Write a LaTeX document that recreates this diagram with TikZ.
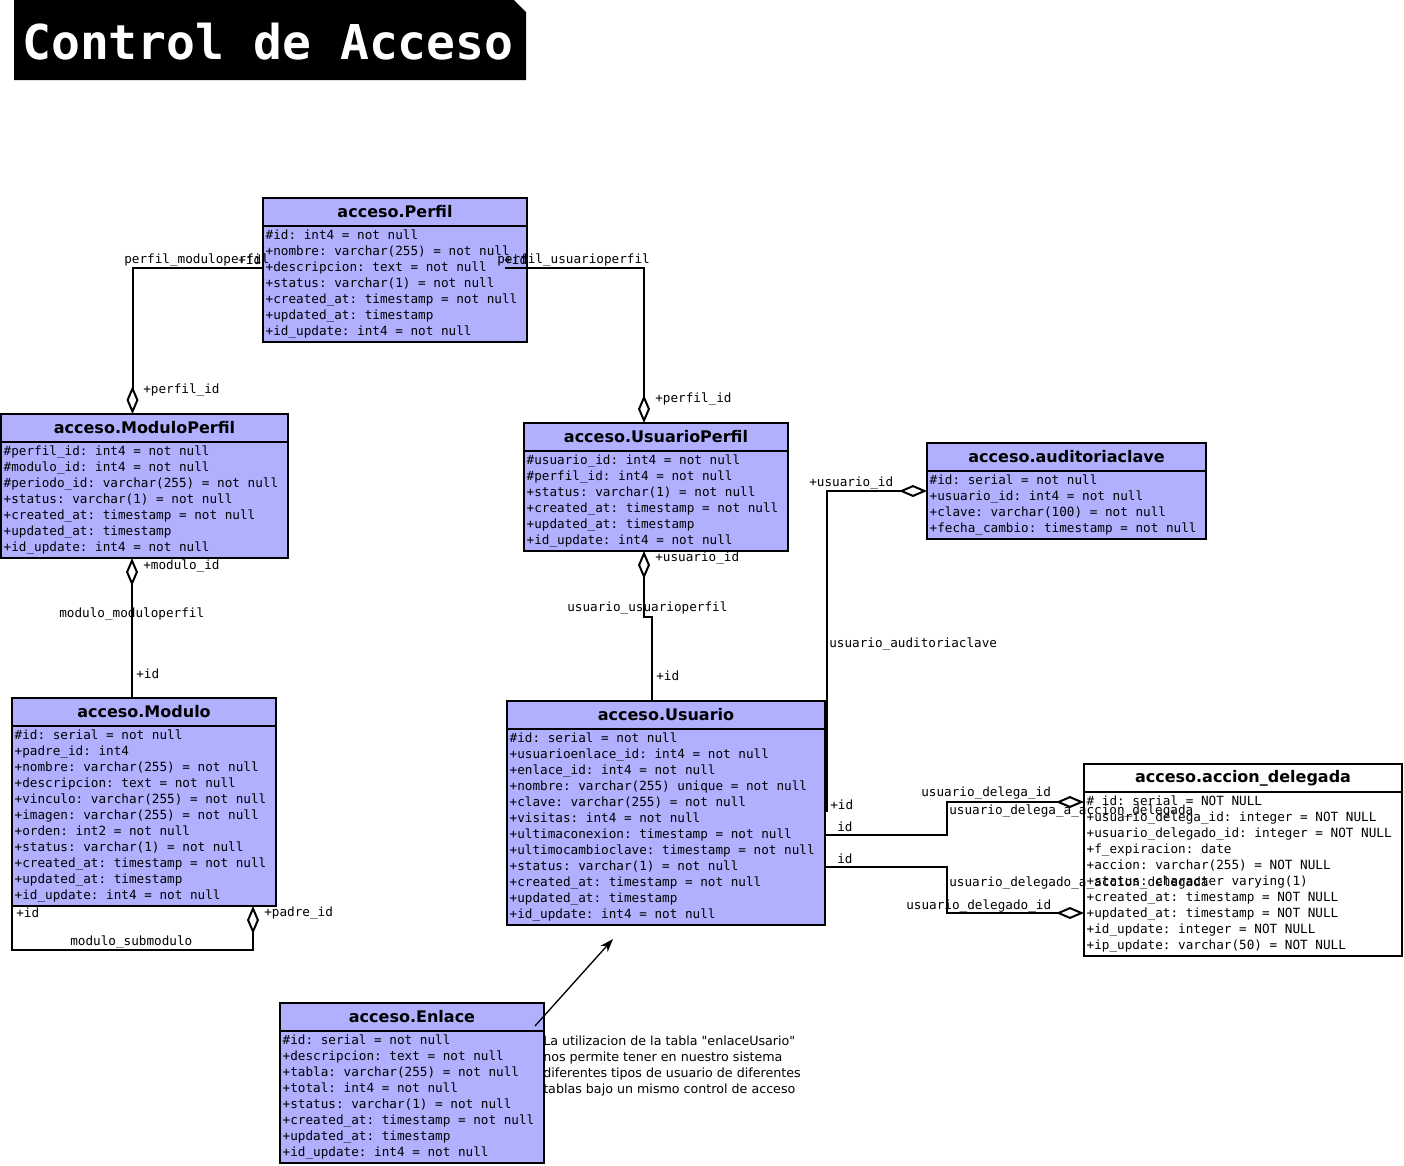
\documentclass[tikz,border=0pt]{standalone}
\usepackage{fontspec}
\setmainfont{DejaVu Sans}
\setsansfont{DejaVu Sans}
\setmonofont{DejaVu Sans Mono}
\usetikzlibrary{positioning,arrows.meta}
\definecolor{tabla}{RGB}{176,176,255}

\tikzset{
  cabecera/.style={draw, line width=1.5pt, anchor=north west, outer sep=0pt,
    inner sep=0pt, minimum height=21pt,
    font=\fontsize{12}{14}\selectfont\bfseries\sffamily},
  cuerpo/.style={draw, line width=1.5pt, outer sep=0pt, inner xsep=2pt,
    inner ysep=1.5pt, align=left, font=\fontsize{9.5}{12}\selectfont\ttfamily},
  rel/.style={line width=1.5pt, -{Diamond[open, fill=white, length=21pt, width=9pt]}},
  etiqueta/.style={anchor=west, inner sep=0pt, font=\fontsize{9.5}{11}\selectfont\ttfamily},
  titulo/.style={anchor=west, inner sep=0pt, text=white,
    font=\fontsize{36}{40}\selectfont\ttfamily\bfseries},
  nota/.style={anchor=north west, inner sep=0pt, align=left,
    font=\fontsize{9.5}{12}\selectfont\sffamily}
}

% tabla: nombre, x, y, ancho (px), color, titulo, filas
\newcommand{\tabla}[7]{%
  \pgfmathsetmacro{\anchotabla}{#4*0.75-4}
  \node[cabecera, fill=#5, minimum width=#4*0.75pt] (#1-h) at (#2,#3) {#6};
  \node[cuerpo, fill=#5, text width=\anchotabla pt, below=0pt of #1-h] (#1)
    {\spaceskip=0pt\xspaceskip=0pt\strut#7\strut};
}

\begin{document}
\begin{tikzpicture}[x=0.75pt, y=-0.75pt]
\useasboundingbox (0,0) rectangle (1404,1165);

% Titulo
\fill (14,0) -- (514,0) -- (526,12) -- (526,80) -- (14,80) -- cycle;
\node[titulo] (titulo) at (22,42) {Control de Acceso};

% Tablas
\tabla{perfil}{263}{198}{264}{tabla}{acceso.Perfil}{%
\#id: int4 = not null\\
+nombre: varchar(255) = not null\\
+descripcion: text = not null\\
+status: varchar(1) = not null\\
+created\_at: timestamp = not null\\
+updated\_at: timestamp\\
+id\_update: int4 = not null}

\tabla{moduloperfil}{1}{414}{287}{tabla}{acceso.ModuloPerfil}{%
\#perfil\_id: int4 = not null\\
\#modulo\_id: int4 = not null\\
\#periodo\_id: varchar(255) = not null\\
+status: varchar(1) = not null\\
+created\_at: timestamp = not null\\
+updated\_at: timestamp\\
+id\_update: int4 = not null}

\tabla{usuarioperfil}{524}{423}{264}{tabla}{acceso.UsuarioPerfil}{%
\#usuario\_id: int4 = not null\\
\#perfil\_id: int4 = not null\\
+status: varchar(1) = not null\\
+created\_at: timestamp = not null\\
+updated\_at: timestamp\\
+id\_update: int4 = not null}

\tabla{auditoriaclave}{927}{443}{279}{tabla}{acceso.auditoriaclave}{%
\#id: serial = not null\\
+usuario\_id: int4 = not null\\
+clave: varchar(100) = not null\\
+fecha\_cambio: timestamp = not null}

\tabla{modulo}{12}{698}{264}{tabla}{acceso.Modulo}{%
\#id: serial = not null\\
+padre\_id: int4\\
+nombre: varchar(255) = not null\\
+descripcion: text = not null\\
+vinculo: varchar(255) = not null\\
+imagen: varchar(255) = not null\\
+orden: int2 = not null\\
+status: varchar(1) = not null\\
+created\_at: timestamp = not null\\
+updated\_at: timestamp\\
+id\_update: int4 = not null}

\tabla{usuario}{507}{701}{318}{tabla}{acceso.Usuario}{%
\#id: serial = not null\\
+usuarioenlace\_id: int4 = not null\\
+enlace\_id: int4 = not null\\
+nombre: varchar(255) unique = not null\\
+clave: varchar(255) = not null\\
+visitas: int4 = not null\\
+ultimaconexion: timestamp = not null\\
+ultimocambioclave: timestamp = not null\\
+status: varchar(1) = not null\\
+created\_at: timestamp = not null\\
+updated\_at: timestamp\\
+id\_update: int4 = not null}

\tabla{accion}{1084}{764}{318}{white}{acceso.accion\_delegada}{%
\# id: serial = NOT NULL\\
+usuario\_delega\_id: integer = NOT NULL\\
+usuario\_delegado\_id: integer = NOT NULL\\
+f\_expiracion: date\\
+accion: varchar(255) = NOT NULL\\
+status: character varying(1)\\
+created\_at: timestamp = NOT NULL\\
+updated\_at: timestamp = NOT NULL\\
+id\_update: integer = NOT NULL\\
+ip\_update: varchar(50) = NOT NULL}

\tabla{enlace}{280}{1003}{264}{tabla}{acceso.Enlace}{%
\#id: serial = not null\\
+descripcion: text = not null\\
+tabla: varchar(255) = not null\\
+total: int4 = not null\\
+status: varchar(1) = not null\\
+created\_at: timestamp = not null\\
+updated\_at: timestamp\\
+id\_update: int4 = not null}

% Relaciones
\draw[rel] ([yshift=12pt]perfil.west) -| ([xshift=-9pt]moduloperfil-h.north);
\draw[rel] ([xshift=-16.5pt, yshift=12pt]perfil.east) -| ([xshift=-9pt]usuarioperfil-h.north);
\draw[rel] ([xshift=-9pt]modulo-h.north) -- ([xshift=-9pt]modulo-h.north |- moduloperfil.south);
\draw[rel] (modulo.south west) -- ++(0,44) -| ([xshift=-17.25pt]modulo.south east);
\draw[rel] ([xshift=-10.5pt]usuario-h.north) -- ++(0,-84) -| ([xshift=-9pt]usuarioperfil.south);
\draw[rel] ([xshift=1.5pt, yshift=11.25pt]usuario.east) |- ([yshift=10.5pt]auditoriaclave.west);
\draw[rel] ([yshift=-6pt]usuario.east) -- ++(122,0) |- ([yshift=54pt]accion.west);
\draw[rel] ([yshift=-30pt]usuario.east) -- ++(122,0) |- ([yshift=-29.25pt]accion.west);

% Etiquetas
\foreach \x/\y/\texto [count=\k] in {
  124/260/perfil\_moduloperfil, 238/260/+id,
  497/260/perfil\_usuarioperfil, 504/260/+id,
  143/390/+perfil\_id, 655/399/+perfil\_id,
  143/566/+modulo\_id, 59/614/modulo\_moduloperfil, 136/674/+id,
  16/913/+id, 264/913/+padre\_id, 70/942/modulo\_submodulo,
  655/558/+usuario\_id, 567/608/usuario\_usuarioperfil, 656/676/+id,
  809/483/+usuario\_id, 829/644/usuario\_auditoriaclave, 830/805/+id,
  837/827/id, 837/859/id,
  921/793/usuario\_delega\_id, 949/811/usuario\_delega\_a\_accion\_delegada,
  949/883/usuario\_delegado\_a\_accion\_delegada, 906/906/usuario\_delegado\_id}
{
  \node[etiqueta] (etiqueta-\k) at (\x,\y) {\texto};
}

% Nota
\coordinate (flecha) at (613,939);
\draw[line width=1pt, -{Stealth[length=10pt, width=7pt]}]
  ([xshift=-6.75pt, yshift=-6.75pt]enlace-h.east) -- (flecha);
\node[nota] (nota) at (543,1036) {La utilizacion de la tabla \textquotedbl enlaceUsario\textquotedbl\\
nos permite tener en nuestro sistema\\
diferentes tipos de usuario de diferentes\\
tablas bajo un mismo control de acceso};

\end{tikzpicture}
\end{document}
